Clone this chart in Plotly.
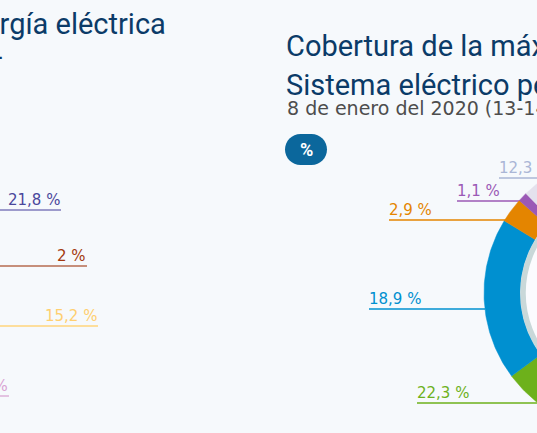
import numpy as np
import plotly.graph_objects as go

# ---------------- data ----------------
# Right donut (clockwise from 12 o'clock)
right_names = ["Nuclear", "Carbón", "Ciclo combinado", "Cogeneración y residuos",
               "Eólica", "Hidráulica", "Solar fotovoltaica", "Solar térmica", "Resto"]
right_values = [19.4, 3.3, 16.0, 3.8, 22.3, 18.9, 2.9, 1.1, 12.3]
right_colors = ["#464394", "#a8431c", "#ffcc66", "#d9a3d3",
                "#6db11b", "#0090d0", "#e48500", "#9b59b6", "#e4e1ed"]
right_label_colors = ["#464394", "#a8431c", "#ffcc66", "#d9a3d3",
                      "#6db11b", "#0090d0", "#e48500", "#9b59b6", "#aab6d6"]

# Left donut labels (the donut itself lies outside the visible area)
left_values = [21.8, 2, 15.2, 5.3]
left_label_colors = ["#4a479b", "#a3390f", "#ffcf70", "#d9a3d3"]
left_line_colors = ["#7f7bbd", "#b66b50", "#ffd47c", "#ddb0d8"]

title_left = ["Producción de energía eléctrica", "Sistema eléctrico peninsular –"]
title_right = ["Cobertura de la máxima demanda", "Sistema eléctrico peninsular"]
subtitle_right = "8 de enero del 2020 (13-14 h)"
unit_badge = "%"

# ---------------- layout ----------------
W, H = 537, 433
BG = "#f6f9fc"
NAVY = "#0b3b68"
TITLE_FONT = "Roboto, Arial, sans-serif"
SUB_FONT = "DejaVu Sans, Verdana, sans-serif"
LABEL_FONT = "DejaVu Sans, Verdana, sans-serif"


def fmt(v):
    if float(v).is_integer():
        return f"{int(v)} %"
    return f"{v:.1f}".replace(".", ",") + " %"


fig = go.Figure()

# donut geometry (pixel units of the axes)
CX, CY, R_OUT, R_IN = 623, 293, 139, 103
total = sum(right_values)
start = 0.0
for name, v, c in zip(right_names, right_values, right_colors):
    a0 = start / total * 2 * np.pi
    a1 = (start + v) / total * 2 * np.pi
    t = np.linspace(a0, a1, 80)
    xs = np.concatenate([CX + R_OUT * np.sin(t), CX + R_IN * np.sin(t[::-1])])
    ys = np.concatenate([CY - R_OUT * np.cos(t), CY - R_IN * np.cos(t[::-1])])
    fig.add_trace(go.Scatter(
        x=np.append(xs, xs[0]), y=np.append(ys, ys[0]),
        mode="lines", fill="toself", fillcolor=c,
        line=dict(color=c, width=0.5), name=name,
        hoverinfo="name", showlegend=False,
    ))
    start += v

shapes = []
annotations = []

# inner grey ring
ri = 100
shapes.append(dict(type="circle", xref="x", yref="y", layer="above",
                   x0=CX - ri, x1=CX + ri, y0=CY - ri, y1=CY + ri,
                   line=dict(color="#c9d8d9", width=5.5), fillcolor="#fbfbfe"))

# right labels: (index in right_values, line x0, line x1, line y)
right_label_pos = [(8, 499, 600, 178), (7, 457, 522, 201), (6, 389, 506, 220),
                   (5, 369, 485, 309), (4, 417, 600, 403)]
for idx, x0, x1, ly in right_label_pos:
    col = right_label_colors[idx]
    shapes.append(dict(type="line", xref="x", yref="y", layer="below",
                       x0=x0, x1=x1, y0=ly, y1=ly,
                       line=dict(color=col, width=1.5)))
    annotations.append(dict(xref="paper", yref="paper", x=(x0 - 2) / W, y=1 - (ly - 10) / H,
                            xanchor="left", yanchor="middle", showarrow=False,
                            text=fmt(right_values[idx]),
                            font=dict(family=LABEL_FONT, size=15, color=col)))

# left labels: (line x1, line y)
left_label_pos = [(61, 210), (87, 266), (98, 326), (9, 396)]
for v, c, lc, (x1, ly) in zip(left_values, left_label_colors, left_line_colors, left_label_pos):
    shapes.append(dict(type="line", xref="x", yref="y", layer="below",
                       x0=-20, x1=x1, y0=ly, y1=ly,
                       line=dict(color=lc, width=1.5)))
    annotations.append(dict(xref="paper", yref="paper", x=(x1 + 1) / W, y=1 - (ly - 10) / H,
                            xanchor="right", yanchor="middle", showarrow=False,
                            text=fmt(v), font=dict(family=LABEL_FONT, size=15, color=c)))


def txt(x, y, text, anchor, size, color, family, bold=False):
    annotations.append(dict(xref="paper", yref="paper", x=x / W, y=1 - y / H,
                            xanchor=anchor, yanchor="middle", showarrow=False,
                            text=f"<b>{text}</b>" if bold else text,
                            font=dict(family=family, size=size, color=color)))


# titles
txt(168, 24, title_left[0], "right", 29, NAVY, TITLE_FONT)
txt(6, 58, title_left[1], "right", 29, NAVY, TITLE_FONT)
txt(284, 46, title_right[0], "left", 29, NAVY, TITLE_FONT)
txt(284, 85, title_right[1], "left", 29, NAVY, TITLE_FONT)
txt(285, 108.5, subtitle_right, "left", 19, "#4d4d4d", SUB_FONT)

# unit badge (pill)
bx0, bx1, by0, by1 = 285, 327, 134, 165
r = (by1 - by0) / 2
k = 0.5523 * r


def P(px, py):
    return f"{px:.3f},{py:.3f}"


path = (f"M {P(bx0 + r, by0)} L {P(bx1 - r, by0)} "
        f"C {P(bx1 - r + k, by0)} {P(bx1, by0 + r - k)} {P(bx1, by0 + r)} "
        f"C {P(bx1, by0 + r + k)} {P(bx1 - r + k, by1)} {P(bx1 - r, by1)} "
        f"L {P(bx0 + r, by1)} "
        f"C {P(bx0 + r - k, by1)} {P(bx0, by1 - r + k)} {P(bx0, by1 - r)} "
        f"C {P(bx0, by1 - r - k)} {P(bx0 + r - k, by0)} {P(bx0 + r, by0)} Z")
shapes.append(dict(type="path", xref="x", yref="y", path=path,
                   fillcolor="#0b679c", line=dict(width=0)))
txt((bx0 + bx1) / 2, (by0 + by1) / 2, unit_badge, "center", 18, "white", TITLE_FONT, bold=True)

fig.update_layout(
    width=W, height=H,
    margin=dict(l=0, r=0, t=0, b=0),
    paper_bgcolor=BG, plot_bgcolor=BG,
    shapes=shapes, annotations=annotations,
    showlegend=False,
    xaxis=dict(range=[0, W], visible=False, fixedrange=True),
    yaxis=dict(range=[H, 0], visible=False, fixedrange=True),
)

fig.write_html(
    "out.html",
    config={"displayModeBar": False},
    post_script="document.body.style.margin='0';document.body.style.overflow='hidden';"
                "document.body.style.background='" + BG + "';",
)
